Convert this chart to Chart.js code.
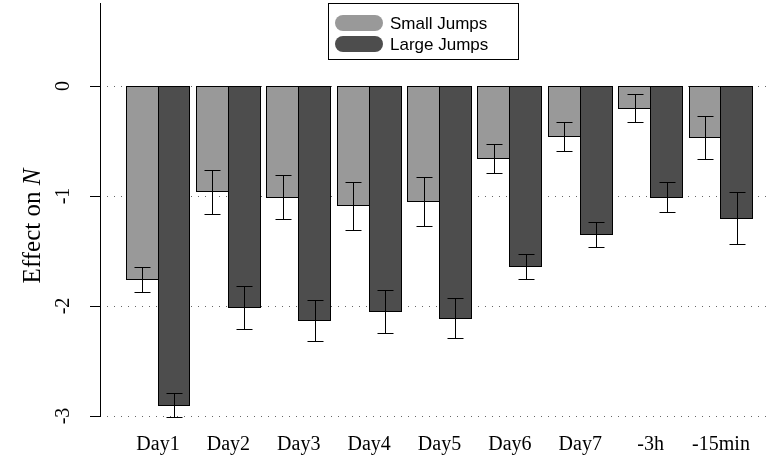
<!DOCTYPE html>
<html>
<head>
<meta charset="utf-8">
<script src="https://cdn.jsdelivr.net/npm/chart.js@4"></script>
<style>
  html, body { margin: 0; padding: 0; background: #fff; }
  #wrap { width: 768px; height: 465px; position: relative; }
</style>
</head>
<body>
<div id="wrap"><canvas id="myChart"></canvas></div>
<script>
// values
const categories = ["Day1", "Day2", "Day3", "Day4", "Day5", "Day6", "Day7", "-3h", "-15min"];
const seriesNames = ["Small Jumps", "Large Jumps"];
const smallJumps = [-1.76, -0.96, -1.01, -1.09, -1.05, -0.66, -0.46, -0.20, -0.47];
const smallErr   = [0.115, 0.20, 0.20, 0.22, 0.22, 0.13, 0.13, 0.125, 0.195];
const largeJumps = [-2.90, -2.01, -2.13, -2.05, -2.11, -1.64, -1.35, -1.01, -1.20];
const largeErr   = [0.11, 0.195, 0.185, 0.195, 0.18, 0.11, 0.115, 0.135, 0.24];
const yTicks = [0, -1, -2, -3];

const colors = ["#999999", "#4d4d4d"];
const serif = "'Liberation Serif', 'Times New Roman', serif";
const sans = "'Liberation Sans', Arial, sans-serif";

// bars sit on a linear x scale so the y axis can stand apart from the first group
const toPoints = vals => vals.map((v, i) => ({ x: i + 1, y: v }));

// dotted reference lines, drawn under the bars
const dottedGrid = {
  id: 'dottedGrid',
  beforeDatasetsDraw(chart) {
    const ctx = chart.ctx, y = chart.scales.y;
    ctx.save();
    ctx.strokeStyle = "#666";
    ctx.lineWidth = 1;
    ctx.setLineDash([1, 6]);
    yTicks.forEach(t => {
      const py = Math.round(y.getPixelForValue(t)) + 0.5;
      ctx.beginPath();
      ctx.moveTo(chart.chartArea.left + 7, py);
      ctx.lineTo(chart.width, py);
      ctx.stroke();
    });
    ctx.restore();
  }
};

// bar outlines, error bars, rotated y labels, axis title and the boxed legend
const extras = {
  id: 'extras',
  afterDatasetsDraw(chart) {
    const ctx = chart.ctx, y = chart.scales.y;
    const errs = [smallErr, largeErr];
    ctx.save();
    ctx.strokeStyle = "#000";
    ctx.lineWidth = 1;
    // outline pixels enclose the fractional fill edges
    chart.data.datasets.forEach((ds, di) => {
      chart.getDatasetMeta(di).data.forEach(bar => {
        const p = bar.getProps(['x', 'y', 'base', 'width'], true);
        const l = Math.floor(p.x - p.width / 2) + 0.5, r = Math.ceil(p.x + p.width / 2) - 0.5;
        const t = Math.floor(Math.min(p.y, p.base)) + 0.5, b = Math.ceil(Math.max(p.y, p.base)) - 0.5;
        ctx.strokeRect(l, t, r - l, b - t);
      });
    });
    chart.data.datasets.forEach((ds, di) => {
      chart.getDatasetMeta(di).data.forEach((bar, i) => {
        const v = ds.data[i].y, e = errs[di][i];
        const x = Math.round(bar.x) + 0.5;
        const y1 = Math.round(y.getPixelForValue(v + e)) + 0.5;
        const y2 = Math.round(y.getPixelForValue(v - e)) + 0.5;
        ctx.beginPath();
        ctx.moveTo(x, y1); ctx.lineTo(x, y2);
        ctx.moveTo(x - 8, y1); ctx.lineTo(x + 8, y1);
        ctx.moveTo(x - 8, y2); ctx.lineTo(x + 8, y2);
        ctx.stroke();
      });
    });

    // y tick labels, rotated like R's default
    ctx.fillStyle = "#000";
    ctx.font = "20px " + serif;
    ctx.textAlign = "center";
    ctx.textBaseline = "middle";
    yTicks.forEach(t => {
      ctx.save();
      ctx.translate(64, y.getPixelForValue(t));
      ctx.rotate(-Math.PI / 2);
      ctx.fillText(String(t), 0, 0);
      ctx.restore();
    });

    // axis title with italic N
    ctx.save();
    ctx.translate(33, 226);
    ctx.rotate(-Math.PI / 2);
    const part1 = "Effect on ", part2 = "N";
    ctx.font = "25px " + serif;
    const w1 = ctx.measureText(part1).width;
    ctx.font = "italic 25px " + serif;
    const w2 = ctx.measureText(part2).width;
    ctx.textAlign = "left";
    ctx.font = "25px " + serif;
    ctx.fillText(part1, -(w1 + w2) / 2, 0);
    ctx.font = "italic 25px " + serif;
    ctx.fillText(part2, -(w1 + w2) / 2 + w1, 0);
    ctx.restore();

    // legend
    ctx.strokeStyle = "#000";
    ctx.strokeRect(328.5, 3.5, 190, 56);
    ctx.font = "17px " + sans;
    ctx.textAlign = "left";
    seriesNames.forEach((name, i) => {
      const cy = 23 + i * 21;
      ctx.fillStyle = colors[i];
      ctx.beginPath();
      ctx.roundRect(335, cy - 8, 48, 16, 8);
      ctx.fill();
      ctx.fillStyle = "#000";
      ctx.fillText(name, 390, cy + 1);
    });
    ctx.restore();
  }
};

new Chart("myChart", {
  type: "bar",
  data: {
    datasets: [
      { label: seriesNames[0], data: toPoints(smallJumps), backgroundColor: colors[0], borderWidth: 0 },
      { label: seriesNames[1], data: toPoints(largeJumps), backgroundColor: colors[1], borderWidth: 0 }
    ]
  },
  options: {
    responsive: true,
    maintainAspectRatio: false,
    animation: false,
    devicePixelRatio: 1,
    layout: { padding: { top: 3, right: 0, left: 0, bottom: 0 } },
    categoryPercentage: 0.909,
    barPercentage: 1,
    plugins: { legend: { display: false }, tooltip: { enabled: false } },
    scales: {
      x: {
        type: "linear",
        offset: false,
        min: 0.1758,
        max: 9.668,
        grid: { display: false },
        border: { display: false },
        afterFit(s) { s.height = 49; },
        ticks: {
          stepSize: 1,
          includeBounds: false,
          autoSkip: false,
          maxRotation: 0,
          padding: 9,
          color: "#000",
          font: { family: serif, size: 20 },
          callback: v => (Number.isInteger(v) && v >= 1 && v <= categories.length) ? categories[v - 1] : ""
        }
      },
      y: {
        min: -3,
        max: 0.755,
        afterBuildTicks(s) { s.ticks = yTicks.map(v => ({ value: v })); },
        afterFit(s) { s.width = 100; },
        grid: { drawOnChartArea: false, tickColor: "#000", tickLength: 10 },
        border: { display: true, color: "#000", width: 1 },
        ticks: { display: false }
      }
    }
  },
  plugins: [dottedGrid, extras]
});
</script>
</body>
</html>
